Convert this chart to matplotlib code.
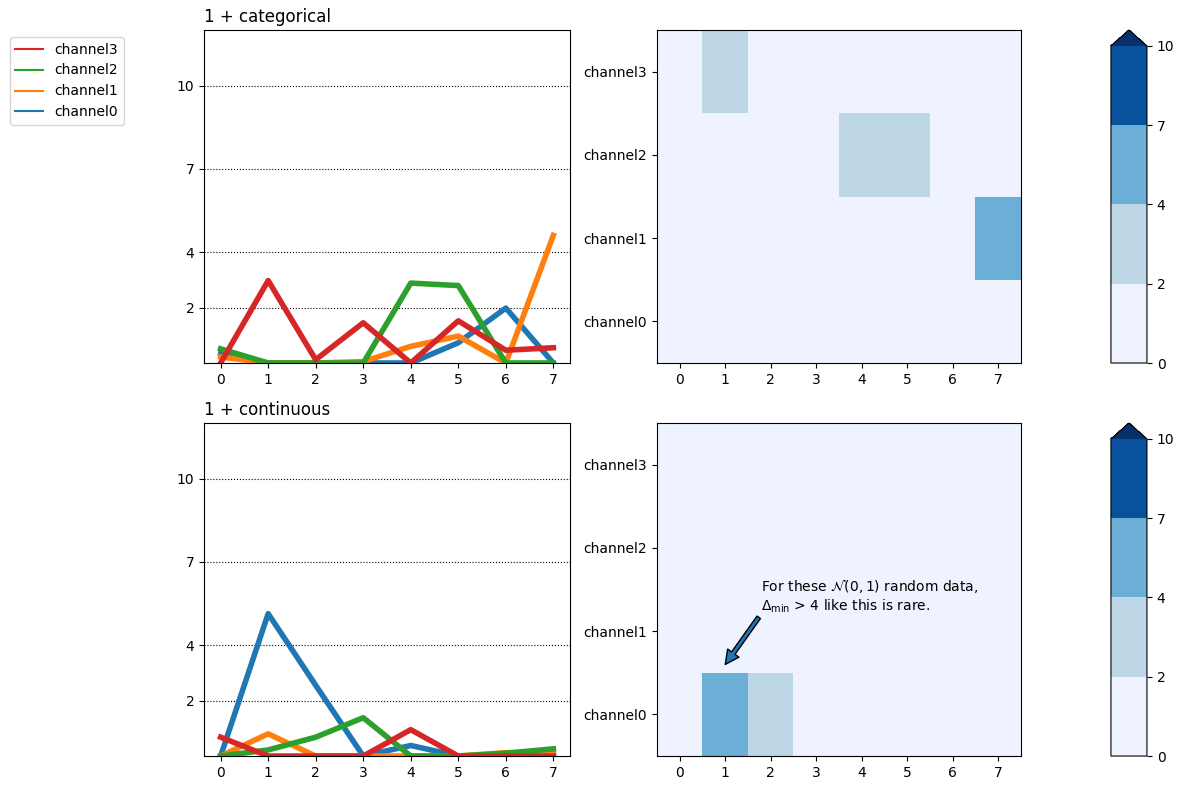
import matplotlib.pyplot as plt
import numpy as np
from matplotlib.colors import BoundaryNorm, ListedColormap
from matplotlib.lines import Line2D

STEPS = [0, 1, 2, 3, 4, 5, 6, 7]
CHANNELS = ["channel0", "channel1", "channel2", "channel3"]
COLOURS = ["tab:blue", "tab:orange", "tab:green", "tab:red"]
BOUNDS = [0, 2, 4, 7, 10]

# delta per channel, "1 + categorical"
cat_ch0 = [0.34, 0.0, 0.0, 0.0, 0.0, 0.73, 1.98, 0.0]
cat_ch1 = [0.22, 0.0, 0.0, 0.05, 0.6, 0.97, 0.0, 4.6]
cat_ch2 = [0.51, 0.0, 0.0, 0.0, 2.88, 2.79, 0.0, 0.0]
cat_ch3 = [0.0, 2.97, 0.12, 1.45, 0.0, 1.52, 0.46, 0.55]

# delta per channel, "1 + continuous"
con_ch0 = [0.0, 5.13, 2.55, 0.0, 0.38, 0.0, 0.0, 0.1]
con_ch1 = [0.0, 0.8, 0.0, 0.0, 0.0, 0.0, 0.12, 0.15]
con_ch2 = [0.0, 0.22, 0.68, 1.38, 0.0, 0.0, 0.1, 0.26]
con_ch3 = [0.68, 0.0, 0.0, 0.0, 0.95, 0.0, 0.0, 0.0]

PANELS = [
    ("1 + categorical", np.array([cat_ch0, cat_ch1, cat_ch2, cat_ch3])),
    ("1 + continuous", np.array([con_ch0, con_ch1, con_ch2, con_ch3])),
]

cmap = ListedColormap(["#eff3ff", "#bdd7e7", "#6baed6", "#08519c"])
cmap.set_over("#08306b")
norm = BoundaryNorm(BOUNDS, cmap.N)

fig = plt.figure(figsize=(11.84, 7.9), dpi=100)

rows = [0.5405, 0.043]
for (title, data), bottom in zip(PANELS, rows):
    ax = fig.add_axes([0.1723, bottom, 0.3091, 0.4215])
    for ch, colour in enumerate(COLOURS):
        ax.plot(STEPS, data[ch], color=colour, linewidth=4)
    ax.set_ylim(0, 12)
    ax.set_yticks([2, 4, 7, 10])
    ax.set_xticks(STEPS)
    ax.grid(axis="y", linestyle=":", color="black", linewidth=0.8)
    ax.set_title(title, loc="left", fontsize=12)

    hax = fig.add_axes([0.5549, bottom, 0.3074, 0.4215])
    im = hax.imshow(data, cmap=cmap, norm=norm, origin="lower", aspect="auto")
    hax.set_xticks(STEPS)
    hax.set_yticks(range(len(CHANNELS)))
    hax.set_yticklabels(CHANNELS)

    cax = fig.add_axes([0.9383, bottom, 0.0304, 0.4215])
    fig.colorbar(im, cax=cax, extend="max", ticks=BOUNDS)

    if title == "1 + continuous":
        hax.annotate(
            "For these $\\mathcal{N}(0,1)$ random data,\n$\\Delta_{\\min}$ > 4 like this is rare.",
            xy=(1.0, 0.6), xytext=(1.78, 1.2),
            ha="left", va="bottom", fontsize=10,
            arrowprops=dict(facecolor="tab:blue", edgecolor="black",
                            width=3, headwidth=10, headlength=10, shrink=0.0),
        )

handles = [Line2D([], [], color=COLOURS[i], linewidth=1.5) for i in range(3, -1, -1)]
labels = [CHANNELS[i] for i in range(3, -1, -1)]
fig.legend(handles, labels, loc="upper left", bbox_to_anchor=(0.0025, 0.962), fontsize=10)

fig.savefig("out.png", dpi=100)
